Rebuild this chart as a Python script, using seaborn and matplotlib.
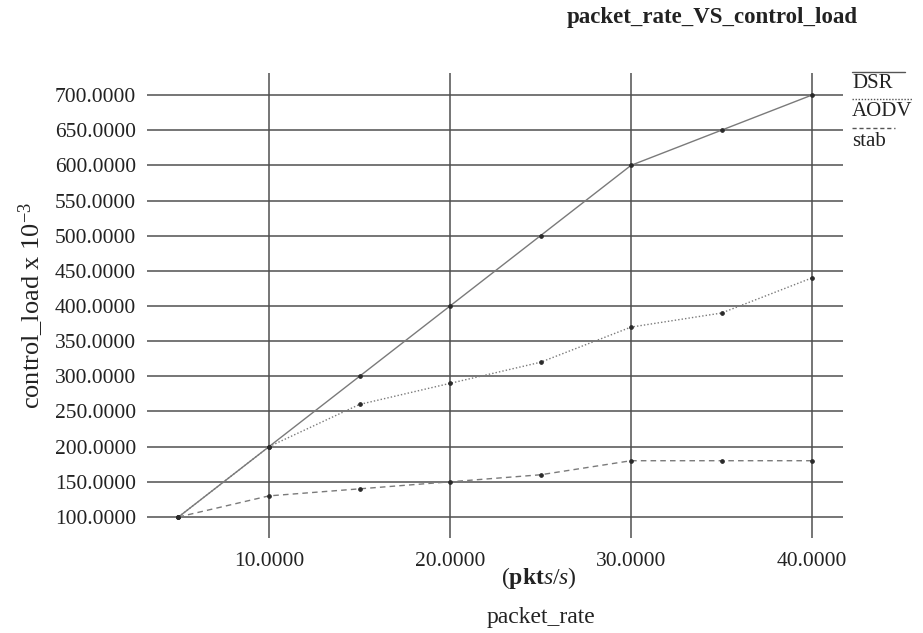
import matplotlib
matplotlib.use("Agg")
import matplotlib.pyplot as plt
import seaborn as sns
import pandas as pd
from matplotlib.lines import Line2D
from matplotlib.ticker import FormatStrFormatter

packet_rate = [5, 10, 15, 20, 25, 30, 35, 40]
dsr = [100, 200, 300, 400, 500, 600, 650, 700]
aodv = [100, 200, 260, 290, 320, 370, 390, 440]
stab = [100, 130, 140, 150, 160, 180, 180, 180]
series_names = ["DSR", "AODV", "stab"]
x_ticks = [10, 20, 30, 40]
y_ticks = [100, 150, 200, 250, 300, 350, 400, 450, 500, 550, 600, 650, 700]

sns.set_theme(style="white")
plt.rcParams["font.family"] = ["Liberation Serif", "DejaVu Serif"]
plt.rcParams["mathtext.fontset"] = "custom"
plt.rcParams["mathtext.rm"] = "Liberation Serif"
plt.rcParams["mathtext.it"] = "Liberation Serif:italic"
plt.rcParams["mathtext.bf"] = "Liberation Serif:bold"

W, H = 923, 633
fig = plt.figure(figsize=(W / 100, H / 100), dpi=100)
ax = fig.add_axes([147 / W, 1 - 538 / H, (843 - 147) / W, (538 - 73) / H])

df = pd.DataFrame({"packet_rate": packet_rate, "DSR": dsr, "AODV": aodv, "stab": stab})
styles = {"DSR": "-", "AODV": (0, (1, 1.5)), "stab": (0, (4, 3))}
for name in series_names:
    sns.lineplot(data=df, x="packet_rate", y=name, ax=ax, color="#7a7a7a",
                 linestyle=styles[name], linewidth=1.0, marker="o", markersize=2.6,
                 markerfacecolor="#2a2a2a", markeredgecolor="#2a2a2a", zorder=3)

ax.set_xlim(3.26, 41.71)
ax.set_ylim(70.1, 731.3)
ax.set_xticks(x_ticks)
ax.set_yticks(y_ticks)
ax.xaxis.set_major_formatter(FormatStrFormatter("%.4f"))
ax.yaxis.set_major_formatter(FormatStrFormatter("%.4f"))
ax.tick_params(axis="both", length=0, labelsize=15.5, colors="#222222")
ax.tick_params(axis="y", pad=8)
ax.tick_params(axis="x", pad=10)
ax.grid(True, color="#4f4f4f", linewidth=1.1)
ax.set_axisbelow(True)
for s in ax.spines.values():
    s.set_visible(False)
ax.set_xlabel("")
ax.set_ylabel("control_load x 10$^{-3}$", fontsize=19, color="#222222", labelpad=6)

fig.text(539 / W, 1 - 578 / H, r"($\mathbf{pkt}s/s$)", ha="center", va="center",
         fontsize=17, color="#222222")
fig.text(541 / W, 1 - 617 / H, "packet_rate", ha="center", va="center",
         fontsize=17, color="#222222")
fig.text(712 / W, 1 - 17 / H, "packet_rate_VS_control_load", ha="center", va="center",
         fontsize=16.5, fontweight="bold", color="#222222")

# legend
leg_styles = ["-", (0, (1, 1.2)), (0, (3, 2))]
line_y = [72, 99, 128]
text_y = [83, 112, 141]
line_x1 = [905, 912, 895]
for name, ls, ly, ty, x1 in zip(series_names, leg_styles, line_y, text_y, line_x1):
    fig.add_artist(Line2D([852 / W, x1 / W], [1 - ly / H, 1 - ly / H], color="#555555",
                          linewidth=1.0, linestyle=ls))
    fig.text(852 / W, 1 - ty / H, name, ha="left", va="center", fontsize=15, color="#222222")

fig.savefig("out.png", dpi=100)
